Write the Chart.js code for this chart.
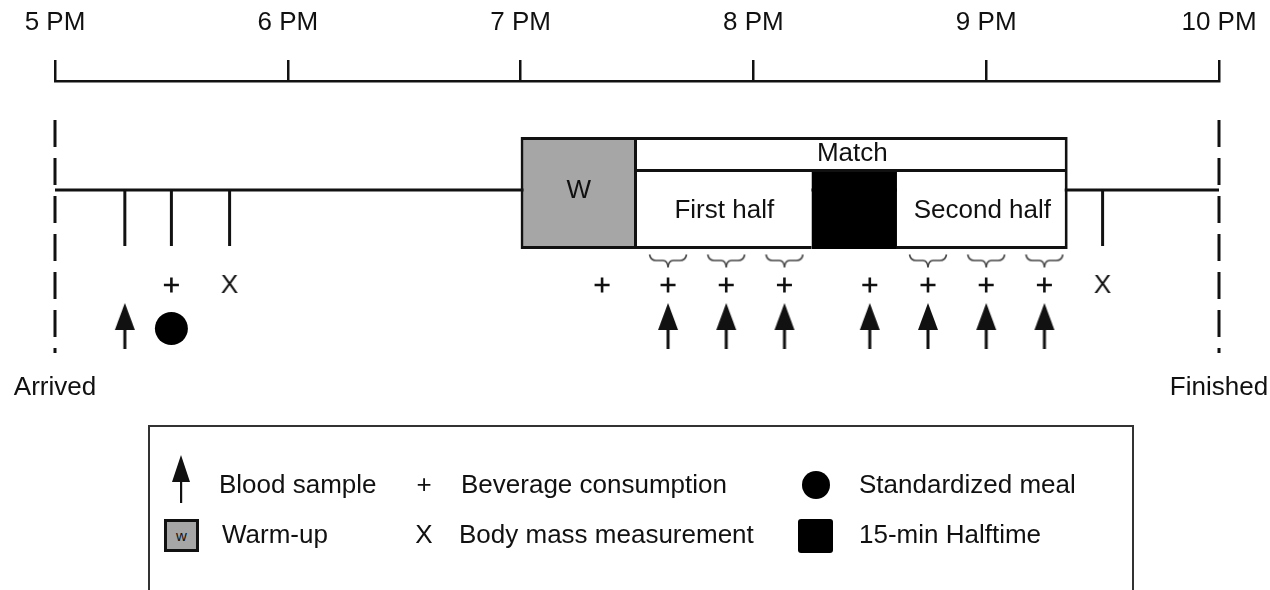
<!DOCTYPE html>
<html>
<head>
<meta charset="utf-8">
<script src="https://cdn.jsdelivr.net/npm/chart.js@4"></script>
<style>
  html, body { margin: 0; padding: 0; background: #fff; overflow: hidden; }
  #wrap { position: relative; width: 1270px; height: 590px; font-family: "Liberation Sans", Arial, sans-serif; color: #111; }
  #chart { position: absolute; left: 0; top: 0; }
  #legend { position: absolute; left: 148px; top: 425px; width: 986px; height: 200px; border: 2px solid #333; box-sizing: border-box; }
  .txt { position: absolute; font-size: 26px; line-height: 30px; white-space: nowrap; }
  .sym { position: absolute; font-size: 26px; line-height: 30px; width: 30px; text-align: center; }
  .ico { position: absolute; }
</style>
</head>
<body>
<div id="wrap">
  <canvas id="chart" width="1270" height="590"></canvas>
  <div id="legend">
    <svg class="ico" style="left:21px;top:28px" width="20" height="48">
      <polygon points="10,0 1,27 19,27" fill="#111"/>
      <rect x="9" y="26" width="2.2" height="22" fill="#111"/>
    </svg>
    <span class="txt" style="left:69px;top:42px">Blood sample</span>
    <span class="sym" style="left:259px;top:42px">+</span>
    <span class="txt" style="left:311px;top:42px">Beverage consumption</span>
    <svg class="ico" style="left:652px;top:44px" width="28" height="28"><circle cx="14" cy="14" r="14" fill="#000"/></svg>
    <span class="txt" style="left:709px;top:42px">Standardized meal</span>

    <div class="ico" style="left:14px;top:92px;width:35px;height:33px;box-sizing:border-box;border:3px solid #111;background:#a6a6a6;font-size:15px;line-height:27px;text-align:center">w</div>
    <span class="txt" style="left:72px;top:92px">Warm-up</span>
    <span class="sym" style="left:259px;top:92px">X</span>
    <span class="txt" style="left:309px;top:92px">Body mass measurement</span>
    <div class="ico" style="left:648px;top:92px;width:35px;height:34px;background:#000;border-radius:3px"></div>
    <span class="txt" style="left:709px;top:92px">15-min Halftime</span>
  </div>
</div>
<script>
/* global Chart */

// minutes after 5 PM
const hourLabels = ['5 PM', '6 PM', '7 PM', '8 PM', '9 PM', '10 PM']
const warmUp = [120, 150]
const matchSpan = [150, 261]
const firstHalf = [150, 195]
const halftime = [195, 217]
const secondHalf = [217, 261]
const timelineTicks = [18, 30, 45, 270]
const beverageTimes = [30, 141, 158, 173, 188, 210, 225, 240, 255]
const bloodTimes = [18, 158, 173, 188, 210, 225, 240, 255]
const mealTimes = [30]
const bodyMassTimes = [45, 270]
const braceTimes = [158, 173, 188, 225, 240, 255]
const endTimes = [0, 300]
const endLabels = ['Arrived', 'Finished']

// vertical lanes (hidden y axis, counted in pixels from the top of the canvas)
const LANE = {
  dashTop: 120, dashBottom: 353, line: 190, tick: 218,
  boxTop: 137, headerBottom: 172, boxBottom: 249,
  brace: 262, bev: 285, arrow: 326, meal: 328.5, endLabel: 388
}

const FONT = '"Liberation Sans", Arial, sans-serif'
Chart.defaults.font.family = FONT

const ink = '#111'

const makeCanvas = (w, h, draw) => {
  const c = document.createElement('canvas')
  c.width = w
  c.height = h
  draw(c.getContext('2d'), w, h)
  return c
}

const arrowImg = makeCanvas(22, 46, (g, w, h) => {
  g.fillStyle = ink
  g.beginPath()
  g.moveTo(w / 2, 0)
  g.lineTo(1, 27)
  g.lineTo(w - 1, 27)
  g.closePath()
  g.fill()
  g.fillRect(w / 2 - 1.5, 26, 3, h - 26)
})

const xImg = makeCanvas(26, 30, (g, w, h) => {
  g.fillStyle = ink
  g.font = '26px ' + FONT
  g.textAlign = 'center'
  g.textBaseline = 'middle'
  g.fillText('X', w / 2, h / 2 + 1)
})

const braceImg = makeCanvas(40, 17, (g, w, h) => {
  const m = w / 2
  g.strokeStyle = '#444'
  g.lineWidth = 1.6
  g.beginPath()
  g.moveTo(1.5, 1)
  g.quadraticCurveTo(2.5, 7, 8, 7)
  g.lineTo(m - 5, 7)
  g.quadraticCurveTo(m - 0.5, 7, m, 14)
  g.quadraticCurveTo(m + 0.5, 7, m + 5, 7)
  g.lineTo(w - 8, 7)
  g.quadraticCurveTo(w - 2.5, 7, w - 1.5, 1)
  g.stroke()
})

const pts = (times, lane) => times.map(t => ({ x: t, y: lane }))

const phaseBar = (span, top, bottom, bg, bw) => ({
  type: 'bar',
  indexAxis: 'y',
  stack: 'phase',
  data: [{ x: span, y: (top + bottom) / 2 }],
  barThickness: bottom - top,
  backgroundColor: bg,
  borderColor: ink,
  borderWidth: bw,
  borderSkipped: false,
  inflateAmount: 0,
  clip: false,
  order: 1
})

const phaseText = [
  { text: 'W', span: warmUp, lane: 191 },
  { text: 'Match', span: matchSpan, lane: 154 },
  { text: 'First half', span: firstHalf, lane: 211 },
  { text: 'Second half', span: secondHalf, lane: 211 }
]

const textPlugin = {
  id: 'textLabels',
  afterDatasetsDraw (chart) {
    const { ctx, scales: { x, y } } = chart
    ctx.save()
    ctx.font = '26px ' + FONT
    ctx.fillStyle = ink
    ctx.textAlign = 'center'
    ctx.textBaseline = 'middle'
    phaseText.forEach(p => {
      ctx.fillText(p.text, x.getPixelForValue((p.span[0] + p.span[1]) / 2), y.getPixelForValue(p.lane))
    })
    endTimes.forEach((t, i) => {
      ctx.fillText(endLabels[i], x.getPixelForValue(t), y.getPixelForValue(LANE.endLabel))
    })
    ctx.restore()
  }
}

const line = (data, extra) => Object.assign({
  type: 'line',
  data,
  borderColor: ink,
  borderWidth: 3,
  pointRadius: 0,
  fill: false,
  clip: false,
  order: 10
}, extra)

const marks = (data, extra) => Object.assign({
  type: 'scatter',
  data,
  clip: false,
  order: 0,
  pointBorderColor: ink,
  pointBackgroundColor: ink
}, extra)

new Chart(document.getElementById('chart'), {
  type: 'scatter',
  data: {
    datasets: [
      line([{ x: endTimes[0], y: LANE.line }, { x: endTimes[1], y: LANE.line }]),
      ...endTimes.map(t => line([{ x: t, y: LANE.dashTop }, { x: t, y: LANE.dashBottom }], { borderDash: [27, 11] })),
      marks(pts(timelineTicks, LANE.tick), { pointStyle: 'line', pointRotation: 90, pointRadius: 28, pointBorderWidth: 3, order: 9 }),

      phaseBar(warmUp, LANE.boxTop, LANE.boxBottom, '#a6a6a6', 3),
      phaseBar(matchSpan, LANE.boxTop, LANE.headerBottom, '#fff', { top: 3, right: 3, bottom: 3, left: 0 }),
      phaseBar(firstHalf, LANE.headerBottom, LANE.boxBottom, '#fff', { top: 0, right: 0, bottom: 3, left: 0 }),
      phaseBar(halftime, LANE.headerBottom, LANE.boxBottom, '#000', 0),
      phaseBar(secondHalf, LANE.headerBottom, LANE.boxBottom, '#fff', { top: 0, right: 3, bottom: 3, left: 0 }),

      marks(pts(braceTimes, LANE.brace), { pointStyle: braceImg, pointRadius: 10 }),
      marks(pts(beverageTimes, LANE.bev), { pointStyle: 'cross', pointRadius: 7.5, pointBorderWidth: 2.6 }),
      marks(pts(bodyMassTimes, LANE.bev), { pointStyle: xImg, pointRadius: 10 }),
      marks(pts(bloodTimes, LANE.arrow), { pointStyle: arrowImg, pointRadius: 10 }),
      marks(pts(mealTimes, LANE.meal), { pointStyle: 'circle', pointRadius: 16.5, pointBorderWidth: 0, pointBackgroundColor: '#000' })
    ]
  },
  options: {
    responsive: false,
    animation: false,
    events: [],
    layout: { autoPadding: false, padding: { left: 55, right: 51, top: 0, bottom: 0 } },
    plugins: { legend: { display: false }, tooltip: { enabled: false } },
    scales: {
      x: {
        type: 'linear',
        position: 'top',
        min: 0,
        max: 300,
        stacked: false,
        offset: false,
        afterFit: s => { s.height = 81; s.paddingLeft = 0; s.paddingRight = 0 },
        ticks: {
          stepSize: 60,
          autoSkip: false,
          maxRotation: 0,
          padding: 22,
          color: ink,
          font: { size: 26 },
          callback: v => hourLabels[v / 60]
        },
        grid: { drawOnChartArea: false, drawTicks: true, tickLength: 21, color: ink, lineWidth: 2.5 },
        border: { display: true, color: ink, width: 2.5 }
      },
      y: { type: 'linear', display: false, offset: false, reverse: true, min: 81, max: 590 }
    }
  },
  plugins: [textPlugin]
})
</script>
</body>
</html>
